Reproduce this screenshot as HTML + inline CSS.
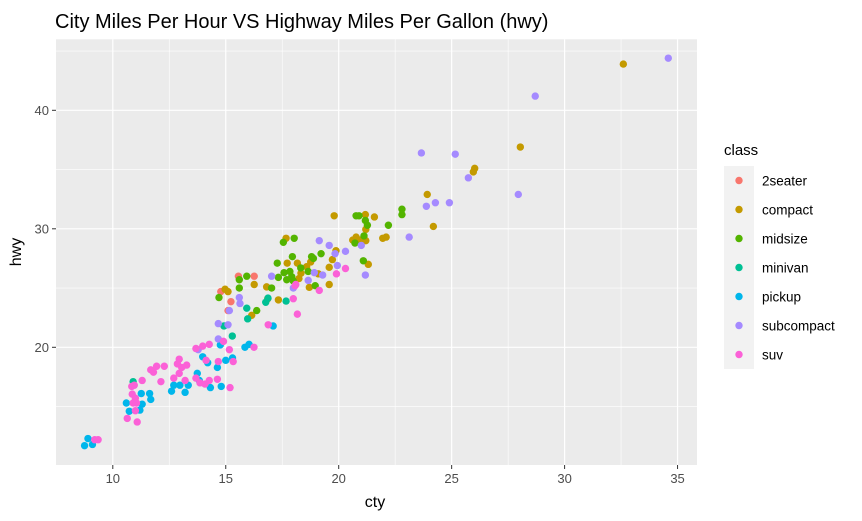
<!DOCTYPE html>
<html><head><meta charset="utf-8"><style>
body{margin:0;background:#fff;}
svg{display:block;font-family:"Liberation Sans",Arial,sans-serif;}
</style></head><body>
<svg id="chart" width="862" height="521">
<rect width="862" height="521" fill="#fff"/>
<text x="55" y="28" font-size="20" fill="#000">City Miles Per Hour VS Highway Miles Per Gallon (hwy)</text>
<rect x="56" y="39.3" width="641" height="425.7" fill="#EBEBEB"/>
<g id="grid"></g>
<g id="points"></g>
<g id="axes"></g>
<text x="375" y="507" font-size="16" text-anchor="middle" fill="#000">cty</text>
<text transform="translate(21,252) rotate(-90)" font-size="16" text-anchor="middle" fill="#000">hwy</text>
<g id="legend"></g>
</svg>
<script>
const classes=["2seater","compact","midsize","minivan","pickup","subcompact","suv"];
const colors=["#F8766D","#C49A00","#53B400","#00C094","#00B6EB","#A58AFF","#FB61D7"];
const xTicks=[10,15,20,25,30,35];
const yTicks=[20,30,40];
const xMinor=[12.5,17.5,22.5,27.5,32.5];
const yMinor=[15,25,35,45];
const cty2seater=[15.56,16.26,14.78,15.23,15.1];
const hwy2seater=[26.0,26.0,24.7,23.85,23.1];
const ctyCompact=[16.26,14.97,15.1,16.15,16.81,17.72,16.86,17.33,19.8,21.18,21.58,21.2,20.77,20.62,20.94,21.2,21.95,22.1,17.67,19.88,18.76,19.72,19.58,21.31,18.17,18.58,18.24,18.33,19.1,18.7,19.58,32.6,28.04,26.02,25.96,23.92,24.19];
const hwyCompact=[25.3,24.9,24.7,22.7,25.1,27.1,24.1,24.0,31.1,31.2,31.0,29.95,29.3,29.05,29.05,29.0,29.2,29.3,29.2,28.15,27.2,27.4,26.75,27.0,27.1,26.8,25.8,26.25,26.2,25.06,25.3,43.9,36.9,35.1,34.8,32.9,30.2];
const ctyMidsize=[15.93,15.6,15.6,14.7,16.37,17.03,17.33,17.28,20.77,20.9,21.18,21.27,22.2,21.12,20.72,17.55,18.03,17.95,18.8,18.88,19.22,21.09,18.32,17.58,17.84,17.92,17.7,17.99,18.65,18.96,22.8,22.8];
const hwyMidsize=[26.0,25.7,25.0,24.2,23.1,25.0,25.9,27.1,31.1,31.1,30.7,30.3,30.3,29.4,28.8,28.86,29.2,27.65,27.65,27.5,27.9,27.3,26.7,26.3,26.4,25.95,25.7,25.6,26.4,25.2,31.65,31.2];
const ctyMinivan=[10.9,15.93,15.97,14.92,15.29,16.87,17.67,16.77];
const hwyMinivan=[17.1,23.3,22.4,21.8,20.95,24.15,23.9,23.8];
const ctyPickup=[8.9,8.75,9.1,10.6,10.73,11.2,11.3,11.26,11.63,11.68,12.6,12.7,12.97,13.2,13.34,13.74,13.83,14.32,14.8,14.63,15.0,15.3,14.2,13.98,14.76,15.85,16.03,17.1];
const hwyPickup=[12.3,11.7,11.8,15.3,14.6,14.7,15.2,16.1,16.1,15.6,16.3,16.8,16.8,16.2,16.8,17.8,17.2,16.6,16.7,18.3,18.9,19.1,18.7,19.2,20.2,20.0,20.25,21.8];
const ctySubcompact=[13.78,15.16,15.6,15.63,14.67,15.1,14.67,17.03,17.99,21.0,19.14,19.58,19.84,20.3,19.94,18.92,19.29,18.65,21.18,34.59,28.7,23.66,25.16,25.74,27.95,23.88,24.28,24.9,23.12];
const hwySubcompact=[19.8,23.1,24.2,23.7,22.0,21.9,20.7,26.0,25.0,28.6,29.0,28.6,27.9,28.1,26.9,26.3,26.1,25.65,26.1,44.4,41.2,36.4,36.3,34.3,32.9,31.9,32.2,32.2,29.3];
const ctySuv=[9.2,9.35,10.84,10.95,11.3,10.86,11.0,10.9,11.05,11.0,10.64,11.08,12.13,11.68,11.8,11.94,12.28,12.94,12.86,13.27,13.05,12.94,12.7,13.2,13.68,13.86,14.08,14.27,14.63,15.19,14.67,15.33,14.13,13.68,13.98,14.27,14.9,15.16,16.25,16.88,17.99,18.1,18.17,19.14,19.9,20.3,18.07];
const hwySuv=[12.2,12.2,16.7,16.8,17.2,16.05,15.7,15.3,15.3,14.65,14.0,13.7,17.1,18.1,17.9,18.4,18.4,19.0,18.6,18.5,18.3,17.8,17.4,17.2,17.4,17.0,16.9,17.2,17.3,16.6,18.8,18.8,18.9,19.9,20.1,20.25,20.5,19.8,20.0,21.9,24.1,25.3,22.8,24.8,26.2,26.65,25.2];
const seriesCty=[cty2seater,ctyCompact,ctyMidsize,ctyMinivan,ctyPickup,ctySubcompact,ctySuv];
const seriesHwy=[hwy2seater,hwyCompact,hwyMidsize,hwyMinivan,hwyPickup,hwySubcompact,hwySuv];

const NS="http://www.w3.org/2000/svg";
const PL=56,PR=697,PT=39.3,PB=465;
function xs(v){return 112.8+(v-10)*22.59;}
function ys(v){return 347.3-(v-20)*11.85;}
function mk(tag,attrs,parent){const e=document.createElementNS(NS,tag);for(const k in attrs)e.setAttribute(k,attrs[k]);parent.appendChild(e);return e;}
const grid=document.getElementById('grid');
xMinor.forEach(v=>{const l=mk('line',{x1:xs(v),x2:xs(v),y1:PT,y2:PB,stroke:'#fff','stroke-width':0.6},grid);

});
yMinor.forEach(v=>{const l=mk('line',{x1:PL,x2:PR,y1:ys(v),y2:ys(v),stroke:'#fff','stroke-width':0.6},grid);

});
xTicks.forEach(v=>{const l=mk('line',{x1:xs(v),x2:xs(v),y1:PT,y2:PB,stroke:'#fff','stroke-width':1.2},grid);

});
yTicks.forEach(v=>{const l=mk('line',{x1:PL,x2:PR,y1:ys(v),y2:ys(v),stroke:'#fff','stroke-width':1.2},grid);

});
const axes=document.getElementById('axes');
xTicks.forEach(v=>{const t=mk('line',{x1:xs(v),x2:xs(v),y1:PB,y2:PB+4,stroke:'#333','stroke-width':1},axes);


const tx=mk('text',{x:xs(v),y:PB+18,'font-size':13,'text-anchor':'middle',fill:'#4D4D4D'},axes);tx.textContent=v;

});
yTicks.forEach(v=>{const t=mk('line',{x1:PL-4,x2:PL,y1:ys(v),y2:ys(v),stroke:'#333','stroke-width':1},axes);


const tx=mk('text',{x:PL-7,y:ys(v)+4.5,'font-size':13,'text-anchor':'end',fill:'#4D4D4D'},axes);tx.textContent=v;

});
const pts=document.getElementById('points');
seriesCty.forEach((arr,ci)=>{arr.forEach((c,i)=>{const p=mk('circle',{cx:xs(c),cy:ys(seriesHwy[ci][i]),r:3.7,fill:colors[ci]},pts);

});});
const lg=document.getElementById('legend');
const lt=mk('text',{x:724,y:155,'font-size':15,fill:'#000'},lg);lt.textContent='class';


classes.forEach((c,i)=>{const y=166+i*29;
const g=mk('g',{},lg);


mk('rect',{x:724,y:y,width:30,height:29,fill:'#F2F2F2'},g);
mk('circle',{cx:739,cy:y+14.5,r:3.7,fill:colors[i]},g);
const t=mk('text',{x:762,y:y+19.5,'font-size':13.5,fill:'#000'},g);t.textContent=c;});
</script>
</body></html>
